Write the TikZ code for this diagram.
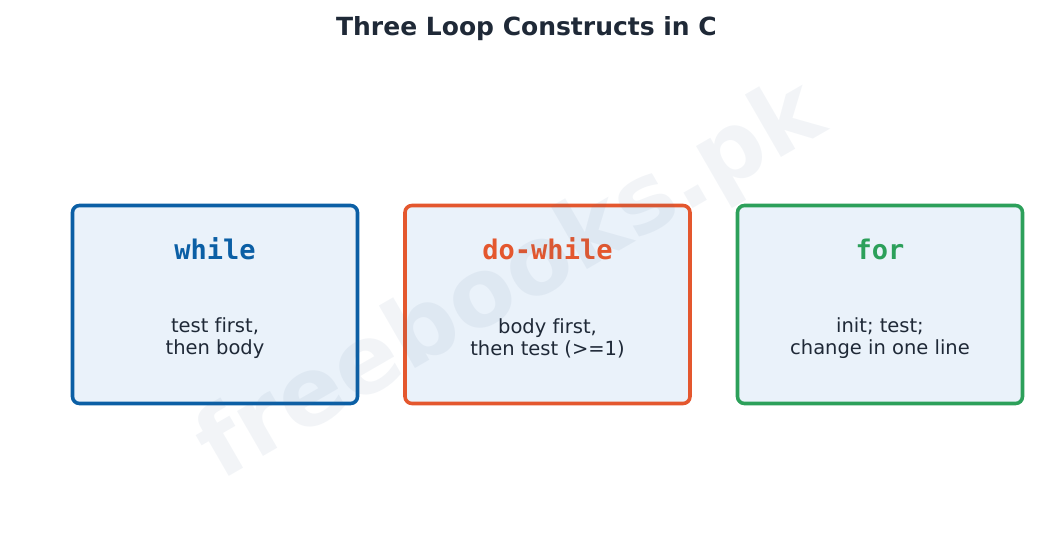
\documentclass[tikz,border=0pt]{standalone}
\usepackage{fontspec}
\setmainfont[Ligatures={NoCommon}]{DejaVu Sans}
\newfontfamily\monobf{DejaVu Sans Mono Bold}
\definecolor{txt}{HTML}{1F2937}
\definecolor{cblue}{HTML}{0B5FA5}
\definecolor{corange}{HTML}{E4572E}
\definecolor{cgreen}{HTML}{2CA05A}
\definecolor{boxfill}{HTML}{EAF2FA}
\definecolor{wmark}{HTML}{4A6A90}
\begin{document}
\begin{tikzpicture}[x=1pt,y=-1pt,
  loopbox/.style={draw, line width=3.6pt, rounded corners=7pt, fill=boxfill, minimum width=285pt, minimum height=198pt, inner sep=0pt},
  kw/.style={font=\monobf\fontsize{27}{32}\selectfont},
  desc/.style={font=\fontsize{19.5}{22}\selectfont, text=txt, align=center},
]
\useasboundingbox (0,0) rectangle (1053,546);
\node[font=\bfseries\fontsize{25}{30}\selectfont, text=txt] (title) at (526.5,29) {Three Loop Constructs in C};

\node[loopbox, draw=cblue] (b1) at (215,304.5) {};
\node[loopbox, draw=corange] (b2) at (547.5,304.5) {};
\node[loopbox, draw=cgreen] (b3) at (880,304.5) {};

\node[kw, text=cblue] (k1) at (215,249) {while};
\node[kw, text=corange] (k2) at (547.5,249) {do-while};
\node[kw, text=cgreen] (k3) at (880,249) {for};

\node[desc] (d1) at (215,338) {test first,\\then body};
\node[desc] (d2) at (547.5,338) {body first,\\then test (>=1)};
\node[desc] (d3) at (880,338) {init; test;\\change in one line};

\node[font=\bfseries\fontsize{95}{100}\selectfont, text=wmark, opacity=0.07, rotate=30] (wm) at (512,283) {freebooks.pk};
\end{tikzpicture}
\end{document}
